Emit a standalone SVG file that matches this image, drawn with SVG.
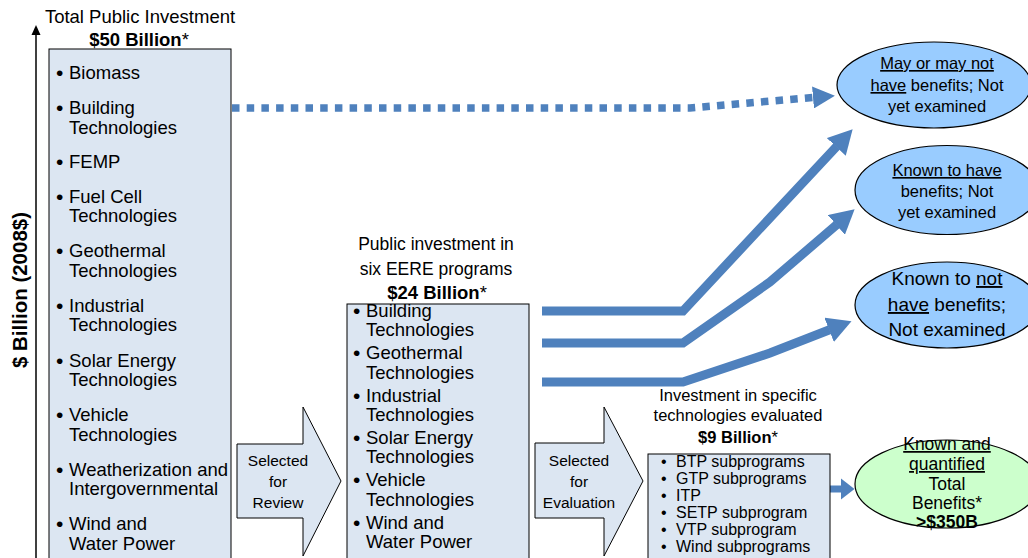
<svg xmlns="http://www.w3.org/2000/svg" width="1028" height="558" viewBox="0 0 1028 558">
<style>
text{font-family:"Liberation Sans",Arial,sans-serif;fill:#000}
.box{fill:#dce6f2;stroke:#000;stroke-width:1}
.big{font-size:18.5px}
.ttl{font-size:18.5px;text-anchor:middle}
.mid{font-size:17.5px;text-anchor:middle}
.sm{font-size:15.5px;text-anchor:middle}
.md{font-size:16.5px;text-anchor:middle}
.li{font-size:16px}
.bu{font-size:21px}
.b{font-weight:bold}
.u{text-decoration:underline}
.ell{fill:#99ccff;stroke:#000;stroke-width:1.2}
.green{fill:#ccffcc;stroke:#000;stroke-width:1.2}
.conn{fill:none;stroke:#4f81bd;stroke-width:9;stroke-linejoin:miter}
.dot{fill:none;stroke:#4f81bd;stroke-width:7.5;stroke-dasharray:7.5 7.2}
.head{fill:#4f81bd}
</style>
<defs>
<marker id="hBig" markerUnits="userSpaceOnUse" viewBox="0 0 24 26" markerWidth="24" markerHeight="26" refX="0.5" refY="13" orient="auto"><path d="M0,0 L24,13 L0,26 Z" class="head"/></marker>
<marker id="hDot" markerUnits="userSpaceOnUse" viewBox="0 0 22 22" markerWidth="22" markerHeight="22" refX="0" refY="11" orient="auto"><path d="M0,0 L22,11 L0,22 Z" class="head"/></marker>
<marker id="hSm" markerUnits="userSpaceOnUse" viewBox="0 0 14 22" markerWidth="14" markerHeight="22" refX="0.5" refY="11" orient="auto"><path d="M0,0 L14,11 L0,22 Z" class="head"/></marker>
</defs>

<g id="axis">
<line x1="36" y1="558" x2="36" y2="32" stroke="#000" stroke-width="1.5"/>
<path d="M36,25 L40.5,35 L31.5,35 Z" fill="#000"/>
<text class="b" font-size="20.5" text-anchor="middle" transform="translate(27,290) rotate(-90)">$ Billion (2008$)</text>
</g>

<g id="connectors">
<polyline class="dot" points="232,108 690,108 813,97.5" marker-end="url(#hDot)"/>
<polyline class="conn" points="542,311 683,311 836.6,146.5" marker-end="url(#hBig)"/>
<polyline class="conn" points="542,343 683,343 770,282 836.8,224.6" marker-end="url(#hBig)"/>
<polyline class="conn" points="542,382 683,382 770,353 829.6,329.7" marker-end="url(#hBig)"/>
<line x1="830" y1="489" x2="841" y2="489" stroke="#4f81bd" stroke-width="7" marker-end="url(#hSm)"/>
</g>

<g id="total">
<text class="ttl" x="140" y="23" font-size="19">Total Public Investment</text>
<text class="ttl" x="139" y="46"><tspan class="b">$50 Billion</tspan>*</text>
<rect class="box" x="49" y="49" width="182" height="560"/>
<g class="big">
<text class="bu" x="56" y="80">•</text><text x="69" y="79">Biomass</text>
<text class="bu" x="56" y="115">•</text><text x="69" y="114">Building</text><text x="69" y="134">Technologies</text>
<text class="bu" x="56" y="169">•</text><text x="69" y="168">FEMP</text>
<text class="bu" x="56" y="204">•</text><text x="69" y="203">Fuel Cell</text><text x="69" y="222">Technologies</text>
<text class="bu" x="56" y="258">•</text><text x="69" y="257">Geothermal</text><text x="69" y="277">Technologies</text>
<text class="bu" x="56" y="313">•</text><text x="69" y="312">Industrial</text><text x="69" y="331">Technologies</text>
<text class="bu" x="56" y="368">•</text><text x="69" y="367">Solar Energy</text><text x="69" y="386">Technologies</text>
<text class="bu" x="56" y="422">•</text><text x="69" y="421">Vehicle</text><text x="69" y="441">Technologies</text>
<text class="bu" x="56" y="477">•</text><text x="69" y="476">Weatherization and</text><text x="69" y="495">Intergovernmental</text>
<text class="bu" x="56" y="531">•</text><text x="69" y="530">Wind and</text><text x="69" y="550">Water Power</text>
</g>
</g>

<g id="review">
<path class="box" d="M237,444 L303,444 L303,407 L341,481 L303,556 L303,518 L237,518 Z"/>
<text class="sm" x="278" y="466">Selected</text>
<text class="sm" x="278" y="487">for</text>
<text class="sm" x="278" y="508">Review</text>
</g>

<g id="eere">
<text class="mid" x="436" y="250">Public investment in</text>
<text class="mid" x="436" y="275">six EERE programs</text>
<text class="ttl" x="437" y="299"><tspan class="b">$24 Billion</tspan>*</text>
<rect class="box" x="347" y="304" width="182" height="300"/>
<g class="big">
<text class="bu" x="353" y="318">•</text><text x="366" y="317">Building</text><text x="366" y="336">Technologies</text>
<text class="bu" x="353" y="360">•</text><text x="366" y="359">Geothermal</text><text x="366" y="379">Technologies</text>
<text class="bu" x="353" y="403">•</text><text x="366" y="402">Industrial</text><text x="366" y="421">Technologies</text>
<text class="bu" x="353" y="445">•</text><text x="366" y="444">Solar Energy</text><text x="366" y="463">Technologies</text>
<text class="bu" x="353" y="487">•</text><text x="366" y="486">Vehicle</text><text x="366" y="506">Technologies</text>
<text class="bu" x="353" y="530">•</text><text x="366" y="529">Wind and</text><text x="366" y="548">Water Power</text>
</g>
</g>

<g id="evaluation">
<path class="box" d="M535,443 L604,443 L604,407 L643,481 L604,556 L604,518 L535,518 Z"/>
<text class="sm" x="579" y="466">Selected</text>
<text class="sm" x="579" y="487">for</text>
<text class="sm" x="579" y="508">Evaluation</text>
</g>

<g id="specific">
<text class="md" x="738" y="401">Investment in specific</text>
<text class="md" x="738" y="421">technologies evaluated</text>
<text class="md" x="738" y="443"><tspan class="b">$9 Billion</tspan>*</text>
<rect class="box" x="648" y="454" width="182" height="150"/>
<g class="li">
<text x="661" y="467">•</text><text x="676" y="467">BTP subprograms</text>
<text x="661" y="484">•</text><text x="676" y="484">GTP subprograms</text>
<text x="661" y="501">•</text><text x="676" y="501">ITP</text>
<text x="661" y="518">•</text><text x="676" y="518">SETP subprogram</text>
<text x="661" y="535">•</text><text x="676" y="535">VTP subprogram</text>
<text x="661" y="552">•</text><text x="676" y="552">Wind subprograms</text>
</g>
</g>

<g id="may-or-may-not">
<ellipse class="ell" cx="934" cy="85" rx="97" ry="43"/>
<text class="md" x="937" y="69"><tspan class="u">May or may not</tspan></text>
<text class="md" x="937" y="91"><tspan class="u">have</tspan> benefits; Not</text>
<text class="md" x="937" y="112">yet examined</text>
</g>

<g id="known-to-have">
<ellipse class="ell" cx="947" cy="190" rx="92" ry="44.5"/>
<text class="md" x="947" y="176"><tspan class="u">Known to have</tspan></text>
<text class="md" x="947" y="197">benefits; Not</text>
<text class="md" x="947" y="218">yet examined</text>
</g>

<g id="known-not">
<ellipse class="ell" cx="947" cy="305" rx="92" ry="43"/>
<text font-size="19" text-anchor="middle" x="947" y="285">Known to <tspan class="u">not</tspan></text>
<text font-size="19" text-anchor="middle" x="947" y="311"><tspan class="u">have</tspan> benefits;</text>
<text font-size="19" text-anchor="middle" x="947" y="336">Not examined</text>
</g>

<g id="known-quantified">
<ellipse class="green" cx="947" cy="484" rx="92" ry="44"/>
<text font-size="17.5" text-anchor="middle" x="947" y="450"><tspan class="u">Known and</tspan></text>
<text font-size="17.5" text-anchor="middle" x="947" y="470"><tspan class="u">quantified</tspan></text>
<text font-size="17.5" text-anchor="middle" x="947" y="490">Total</text>
<text font-size="17.5" text-anchor="middle" x="947" y="509">Benefits*</text>
<text font-size="17.5" text-anchor="middle" class="b" x="947" y="528">&gt;$350B</text>
</g>
</svg>
